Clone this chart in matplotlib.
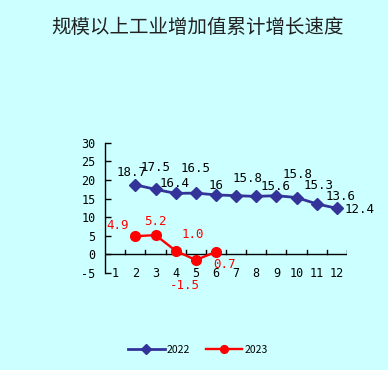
import matplotlib
matplotlib.use("Agg")
import matplotlib.pyplot as plt

plt.rcParams['font.family'] = ['Noto Sans CJK SC', 'DejaVu Sans']

title = "规模以上工业增加值累计增长速度"
months = [1, 2, 3, 4, 5, 6, 7, 8, 9, 10, 11, 12]
m2022 = [2, 3, 4, 5, 6, 7, 8, 9, 10, 11, 12]
v2022 = [18.7, 17.5, 16.4, 16.5, 16, 15.8, 15.6, 15.8, 15.3, 13.6, 12.4]
t2022 = ["18.7", "17.5", "16.4", "16.5", "16", "15.8", "15.6", "15.8", "15.3", "13.6", "12.4"]
m2023 = [2, 3, 4, 5, 6]
v2023 = [4.9, 5.2, 1.0, -1.5, 0.7]
t2023 = ["4.9", "5.2", "1.0", "-1.5", "0.7"]
yticks = [-5, 0, 5, 10, 15, 20, 25, 30]

# label offsets in points (dx, dy)
off2022 = [(-3, 9), (0, 16), (-1, 7), (0, 18), (0, 7), (8, 12), (14, 7), (15, 15), (16, 9), (17, 5), (16, -1)]
off2023 = [(-13, 8), (0, 10), (12, 12), (-8, -18), (6, -9)]

bg = '#CCFFFF'
fig = plt.figure(figsize=(3.88, 3.70), dpi=100, facecolor=bg)
ax = fig.add_axes([0.271, 0.262, 0.623, 0.352], facecolor=bg)

ax.plot(m2022, v2022, color='#333399', lw=2, marker='D', ms=6, label='2022', zorder=3)
ax.plot(m2023, v2023, color='#FF0000', lw=1.7, marker='o', ms=7, label='2023', zorder=3)

mono = ['DejaVu Sans Mono']
for x, y, t, (dx, dy) in zip(m2022, v2022, t2022, off2022):
    ax.annotate(t, (x, y), xytext=(dx, dy), textcoords='offset points',
                ha='center', va='center', fontsize=9, family=mono, color='black')
for x, y, t, (dx, dy) in zip(m2023, v2023, t2023, off2023):
    ax.annotate(t, (x, y), xytext=(dx, dy), textcoords='offset points',
                ha='center', va='center', fontsize=9, family=mono, color='#FF0000')

ax.set_xlim(0.5, 12.5)
ax.set_ylim(-5, 30)
ax.set_yticks(yticks)
ax.set_yticklabels([str(v) for v in yticks], family=mono, fontsize=8.5)
ax.tick_params(axis='y', direction='in', length=4, width=1, pad=7)

ax.spines['top'].set_visible(False)
ax.spines['right'].set_visible(False)
ax.spines['bottom'].set_visible(False)
ax.spines['left'].set_linewidth(1)

# x axis at zero with ticks between categories
ax.axhline(0, color='black', lw=1, zorder=2)
for b in range(1, 13):
    ax.plot([b + 0.5, b + 0.5], [0, 1.2], color='black', lw=1, zorder=2)
ax.set_xticks(months)
ax.set_xticklabels([str(m) for m in months], family=mono, fontsize=8.5)
ax.tick_params(axis='x', length=0, pad=-4.5)

fig.text(0.51, 0.927, title, ha='center', va='center', fontsize=14, color='#222222')

fig.legend(loc='center', bbox_to_anchor=(0.51, 0.055), ncol=2, frameon=False,
           fontsize=7.5, handlelength=3.5, handletextpad=0.2, columnspacing=1.5,
           markerscale=0.8)

fig.savefig('out.png', dpi=100, facecolor=bg)
